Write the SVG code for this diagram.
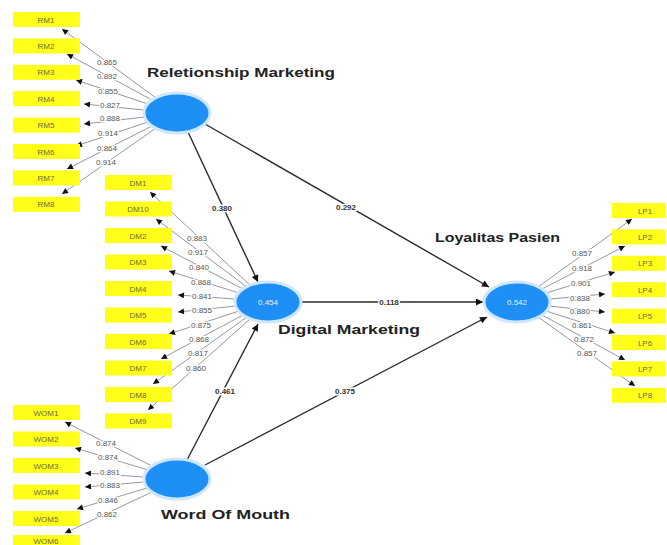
<svg xmlns="http://www.w3.org/2000/svg" width="667" height="545" viewBox="0 0 667 545">
<style>
.box{fill:#ffff1a}
.bt{font-family:"Liberation Sans",Arial,sans-serif;font-size:8px;fill:#6b6b3a;text-anchor:middle}
.il{stroke:#7c7c8c;stroke-width:0.8;fill:none;marker-end:url(#ah)}
.pl{stroke:#2b2b2b;stroke-width:1.4;fill:none;marker-end:url(#ahb)}
.ld{font-family:"Liberation Sans",Arial,sans-serif;font-size:8px;fill:#555;text-anchor:middle;stroke:#fff;stroke-width:2.5;paint-order:stroke;stroke-linejoin:round}
.pc{font-family:"Liberation Sans",Arial,sans-serif;font-size:8px;font-weight:bold;fill:#333;text-anchor:middle;stroke:#fff;stroke-width:3;paint-order:stroke;stroke-linejoin:round}
.lv{fill:#1e8ff5;stroke:#cfe6ff;stroke-width:3}
.lvt{font-family:"Liberation Sans",Arial,sans-serif;font-size:8px;fill:#e8f2ff;text-anchor:middle}
.nm{font-family:"Liberation Sans",Arial,sans-serif;font-size:13px;font-weight:bold;fill:#222}
</style>
<defs>
<marker id="ah" viewBox="0 0 10 10" refX="10" refY="5" markerWidth="7" markerHeight="6" markerUnits="userSpaceOnUse" orient="auto"><path d="M0,0L10,5L0,10z" fill="#111"/></marker>
<marker id="ahb" viewBox="0 0 10 10" refX="10" refY="5" markerWidth="9" markerHeight="7" markerUnits="userSpaceOnUse" orient="auto"><path d="M0,0L10,5L0,10z" fill="#111"/></marker>
</defs>
<rect width="667" height="545" fill="#fff"/>

<g id="connectors">
<line class="il" x1="156" y1="98" x2="62" y2="29"/>
<line class="il" x1="152" y1="100" x2="67" y2="54"/>
<line class="il" x1="148" y1="104" x2="76" y2="80"/>
<line class="il" x1="144" y1="110" x2="84" y2="104"/>
<line class="il" x1="145" y1="117" x2="84" y2="124"/>
<line class="il" x1="148" y1="122" x2="76" y2="146"/>
<line class="il" x1="152" y1="126" x2="67" y2="169"/>
<line class="il" x1="156" y1="128" x2="62" y2="194"/>
<line class="il" x1="250" y1="285" x2="150" y2="192"/>
<line class="il" x1="247" y1="287" x2="156" y2="219"/>
<line class="il" x1="243" y1="289" x2="161" y2="246"/>
<line class="il" x1="239" y1="293" x2="169" y2="271"/>
<line class="il" x1="235" y1="299" x2="178" y2="295"/>
<line class="il" x1="236" y1="306" x2="178" y2="312"/>
<line class="il" x1="239" y1="311" x2="169" y2="334"/>
<line class="il" x1="243" y1="315" x2="161" y2="359"/>
<line class="il" x1="247" y1="317" x2="153" y2="384"/>
<line class="il" x1="250" y1="319" x2="148" y2="410"/>
<line class="il" x1="538" y1="287" x2="632" y2="219"/>
<line class="il" x1="542" y1="289" x2="625" y2="246"/>
<line class="il" x1="546" y1="293" x2="615" y2="272"/>
<line class="il" x1="550" y1="299" x2="605" y2="294"/>
<line class="il" x1="549" y1="306" x2="605" y2="312"/>
<line class="il" x1="546" y1="311" x2="615" y2="333"/>
<line class="il" x1="542" y1="315" x2="625" y2="360"/>
<line class="il" x1="538" y1="317" x2="635" y2="386"/>
<line class="il" x1="152" y1="466" x2="65" y2="422"/>
<line class="il" x1="148" y1="470" x2="75" y2="448"/>
<line class="il" x1="144" y1="477" x2="85" y2="473"/>
<line class="il" x1="144" y1="482" x2="85" y2="487"/>
<line class="il" x1="147" y1="488" x2="77" y2="509"/>
<line class="il" x1="152" y1="492" x2="65" y2="533"/>
<line class="pl" x1="188" y1="132" x2="258" y2="282"/>
<line class="pl" x1="205" y1="124" x2="489" y2="287"/>
<line class="pl" x1="302" y1="302" x2="483" y2="302"/>
<line class="pl" x1="187" y1="460" x2="258" y2="324"/>
<line class="pl" x1="205" y1="465" x2="487" y2="317"/>
<text class="ld" x="107" y="65">0.865</text>
<text class="ld" x="107" y="79">0.892</text>
<text class="ld" x="108" y="94">0.855</text>
<text class="ld" x="110" y="108">0.827</text>
<text class="ld" x="110" y="121">0.888</text>
<text class="ld" x="108" y="136">0.914</text>
<text class="ld" x="107" y="151">0.864</text>
<text class="ld" x="106" y="165">0.914</text>
<text class="ld" x="197" y="241">0.883</text>
<text class="ld" x="198" y="255">0.917</text>
<text class="ld" x="199" y="270">0.840</text>
<text class="ld" x="201" y="285">0.868</text>
<text class="ld" x="202" y="299">0.841</text>
<text class="ld" x="202" y="313">0.855</text>
<text class="ld" x="201" y="328">0.875</text>
<text class="ld" x="199" y="342">0.868</text>
<text class="ld" x="198" y="356">0.817</text>
<text class="ld" x="196" y="371">0.860</text>
<text class="ld" x="582" y="256">0.857</text>
<text class="ld" x="582" y="271">0.918</text>
<text class="ld" x="581" y="286">0.901</text>
<text class="ld" x="580" y="301">0.838</text>
<text class="ld" x="580" y="314">0.880</text>
<text class="ld" x="582" y="328">0.861</text>
<text class="ld" x="584" y="342">0.872</text>
<text class="ld" x="587" y="356">0.857</text>
<text class="ld" x="106" y="446">0.874</text>
<text class="ld" x="108" y="460">0.874</text>
<text class="ld" x="110" y="475">0.891</text>
<text class="ld" x="110" y="488">0.883</text>
<text class="ld" x="108" y="503">0.846</text>
<text class="ld" x="107" y="517">0.862</text>
<text class="pc" x="222" y="211">0.380</text>
<text class="pc" x="346" y="210">0.292</text>
<text class="pc" x="389" y="305">0.118</text>
<text class="pc" x="225" y="394">0.461</text>
<text class="pc" x="345" y="394">0.375</text>
</g>

<g id="rm">
<ellipse class="lv" cx="177" cy="113" rx="33" ry="20"/>
<text class="nm" x="147" y="77" textLength="188" lengthAdjust="spacingAndGlyphs">Reletionship Marketing</text>
</g>
<g id="dm">
<ellipse class="lv" cx="268" cy="302" rx="33" ry="20"/>
<text class="lvt" x="268" y="305">0.454</text>
<text class="nm" x="278" y="334" textLength="142" lengthAdjust="spacingAndGlyphs">Digital Marketing</text>
</g>
<g id="lp">
<ellipse class="lv" cx="517" cy="302" rx="33" ry="20"/>
<text class="lvt" x="517" y="305">0.542</text>
<text class="nm" x="435" y="242" textLength="125" lengthAdjust="spacingAndGlyphs">Loyalitas Pasien</text>
</g>
<g id="wom">
<ellipse class="lv" cx="177" cy="479" rx="33" ry="20"/>
<text class="nm" x="161" y="519" textLength="129" lengthAdjust="spacingAndGlyphs">Word Of Mouth</text>
</g>

<g id="rm-indicators">
<g id="RM1"><rect class="box" x="13" y="12" width="67" height="15"/><text class="bt" x="46" y="22.5">RM1</text></g>
<g id="RM2"><rect class="box" x="13" y="38.4" width="67" height="15"/><text class="bt" x="46" y="49">RM2</text></g>
<g id="RM3"><rect class="box" x="13" y="64.8" width="67" height="15"/><text class="bt" x="46" y="75.3">RM3</text></g>
<g id="RM4"><rect class="box" x="13" y="91.2" width="67" height="15"/><text class="bt" x="46" y="101.7">RM4</text></g>
<g id="RM5"><rect class="box" x="13" y="117.6" width="67" height="15"/><text class="bt" x="46" y="128.1">RM5</text></g>
<g id="RM6"><rect class="box" x="13" y="144" width="67" height="15"/><text class="bt" x="46" y="154.5">RM6</text></g>
<g id="RM7"><rect class="box" x="13" y="170.4" width="67" height="15"/><text class="bt" x="46" y="180.9">RM7</text></g>
<g id="RM8"><rect class="box" x="13" y="196.8" width="67" height="15"/><text class="bt" x="46" y="207.3">RM8</text></g>
</g>
<g id="dm-indicators">
<g id="DM1"><rect class="box" x="105" y="175" width="67" height="15"/><text class="bt" x="138" y="185.5">DM1</text></g>
<g id="DM10"><rect class="box" x="105" y="201.5" width="67" height="15"/><text class="bt" x="138" y="212">DM10</text></g>
<g id="DM2"><rect class="box" x="105" y="228" width="67" height="15"/><text class="bt" x="138" y="238.5">DM2</text></g>
<g id="DM3"><rect class="box" x="105" y="254.5" width="67" height="15"/><text class="bt" x="138" y="265">DM3</text></g>
<g id="DM4"><rect class="box" x="105" y="281" width="67" height="15"/><text class="bt" x="138" y="291.5">DM4</text></g>
<g id="DM5"><rect class="box" x="105" y="307.5" width="67" height="15"/><text class="bt" x="138" y="318">DM5</text></g>
<g id="DM6"><rect class="box" x="105" y="334" width="67" height="15"/><text class="bt" x="138" y="344.5">DM6</text></g>
<g id="DM7"><rect class="box" x="105" y="360.5" width="67" height="15"/><text class="bt" x="138" y="371">DM7</text></g>
<g id="DM8"><rect class="box" x="105" y="387" width="67" height="15"/><text class="bt" x="138" y="397.5">DM8</text></g>
<g id="DM9"><rect class="box" x="105" y="413.5" width="67" height="15"/><text class="bt" x="138" y="424">DM9</text></g>
</g>
<g id="lp-indicators">
<g id="LP1"><rect class="box" x="612" y="203" width="54" height="15"/><text class="bt" x="645" y="213.5">LP1</text></g>
<g id="LP2"><rect class="box" x="612" y="229.4" width="54" height="15"/><text class="bt" x="645" y="239.9">LP2</text></g>
<g id="LP3"><rect class="box" x="612" y="255.8" width="54" height="15"/><text class="bt" x="645" y="266.3">LP3</text></g>
<g id="LP4"><rect class="box" x="612" y="282.2" width="54" height="15"/><text class="bt" x="645" y="292.7">LP4</text></g>
<g id="LP5"><rect class="box" x="612" y="308.6" width="54" height="15"/><text class="bt" x="645" y="319.1">LP5</text></g>
<g id="LP6"><rect class="box" x="612" y="335" width="54" height="15"/><text class="bt" x="645" y="345.5">LP6</text></g>
<g id="LP7"><rect class="box" x="612" y="361.4" width="54" height="15"/><text class="bt" x="645" y="371.9">LP7</text></g>
<g id="LP8"><rect class="box" x="612" y="387.8" width="54" height="15"/><text class="bt" x="645" y="398.3">LP8</text></g>
</g>
<g id="wom-indicators">
<g id="WOM1"><rect class="box" x="13" y="405" width="67" height="15"/><text class="bt" x="46" y="415.5">WOM1</text></g>
<g id="WOM2"><rect class="box" x="13" y="431.5" width="67" height="15"/><text class="bt" x="46" y="442">WOM2</text></g>
<g id="WOM3"><rect class="box" x="13" y="458" width="67" height="15"/><text class="bt" x="46" y="468.5">WOM3</text></g>
<g id="WOM4"><rect class="box" x="13" y="484.5" width="67" height="15"/><text class="bt" x="46" y="495">WOM4</text></g>
<g id="WOM5"><rect class="box" x="13" y="511" width="67" height="15"/><text class="bt" x="46" y="521.5">WOM5</text></g>
<g id="WOM6"><rect class="box" x="13" y="535" width="67" height="15"/><text class="bt" x="46" y="543.5">WOM6</text></g>
</g>
</svg>
